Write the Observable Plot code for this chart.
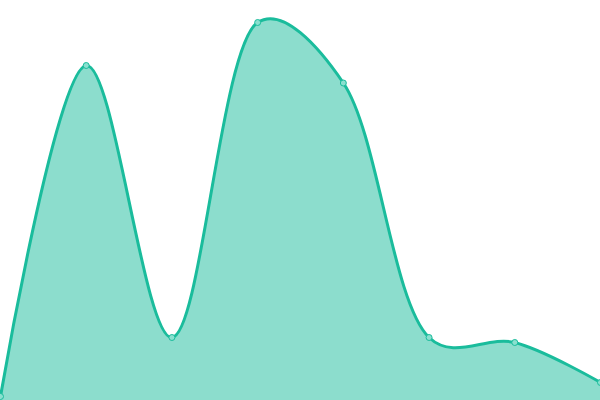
<!DOCTYPE html>
<html>
<head>
<meta charset="utf-8">
<script src="https://cdn.jsdelivr.net/npm/d3@7"></script>
<script src="https://cdn.jsdelivr.net/npm/@observablehq/plot@0.6"></script>
<style>
html,body{margin:0;padding:0;background:#fff;}
svg{display:block;}
</style>
</head>
<body>
<div id="chart"></div>
<script>
const categories = [0, 1, 2, 3, 4, 5, 6, 7];
const values = [4, 335, 63, 378, 317.5, 63, 58, 18];

const data = categories.map((c, i) => ({x: c, y: values[i]}));

const chart = Plot.plot({
  width: 600,
  height: 400,
  margin: 0,
  x: {domain: [0, 7], axis: null},
  y: {domain: [0, 400], axis: null},
  marks: [
    Plot.areaY(data, {x: "x", y: "y", curve: "catmull-rom", tension: 0.35, fill: "#1abc9c", fillOpacity: 0.5}),
    Plot.lineY(data, {x: "x", y: "y", curve: "catmull-rom", tension: 0.35, stroke: "#1abc9c", strokeWidth: 3}),
    Plot.dot(data, {x: "x", y: "y", r: 3, fill: "#8ae0cf", stroke: "#1abc9c", strokeWidth: 1})
  ]
});
document.getElementById("chart").appendChild(chart);
</script>
</body>
</html>
